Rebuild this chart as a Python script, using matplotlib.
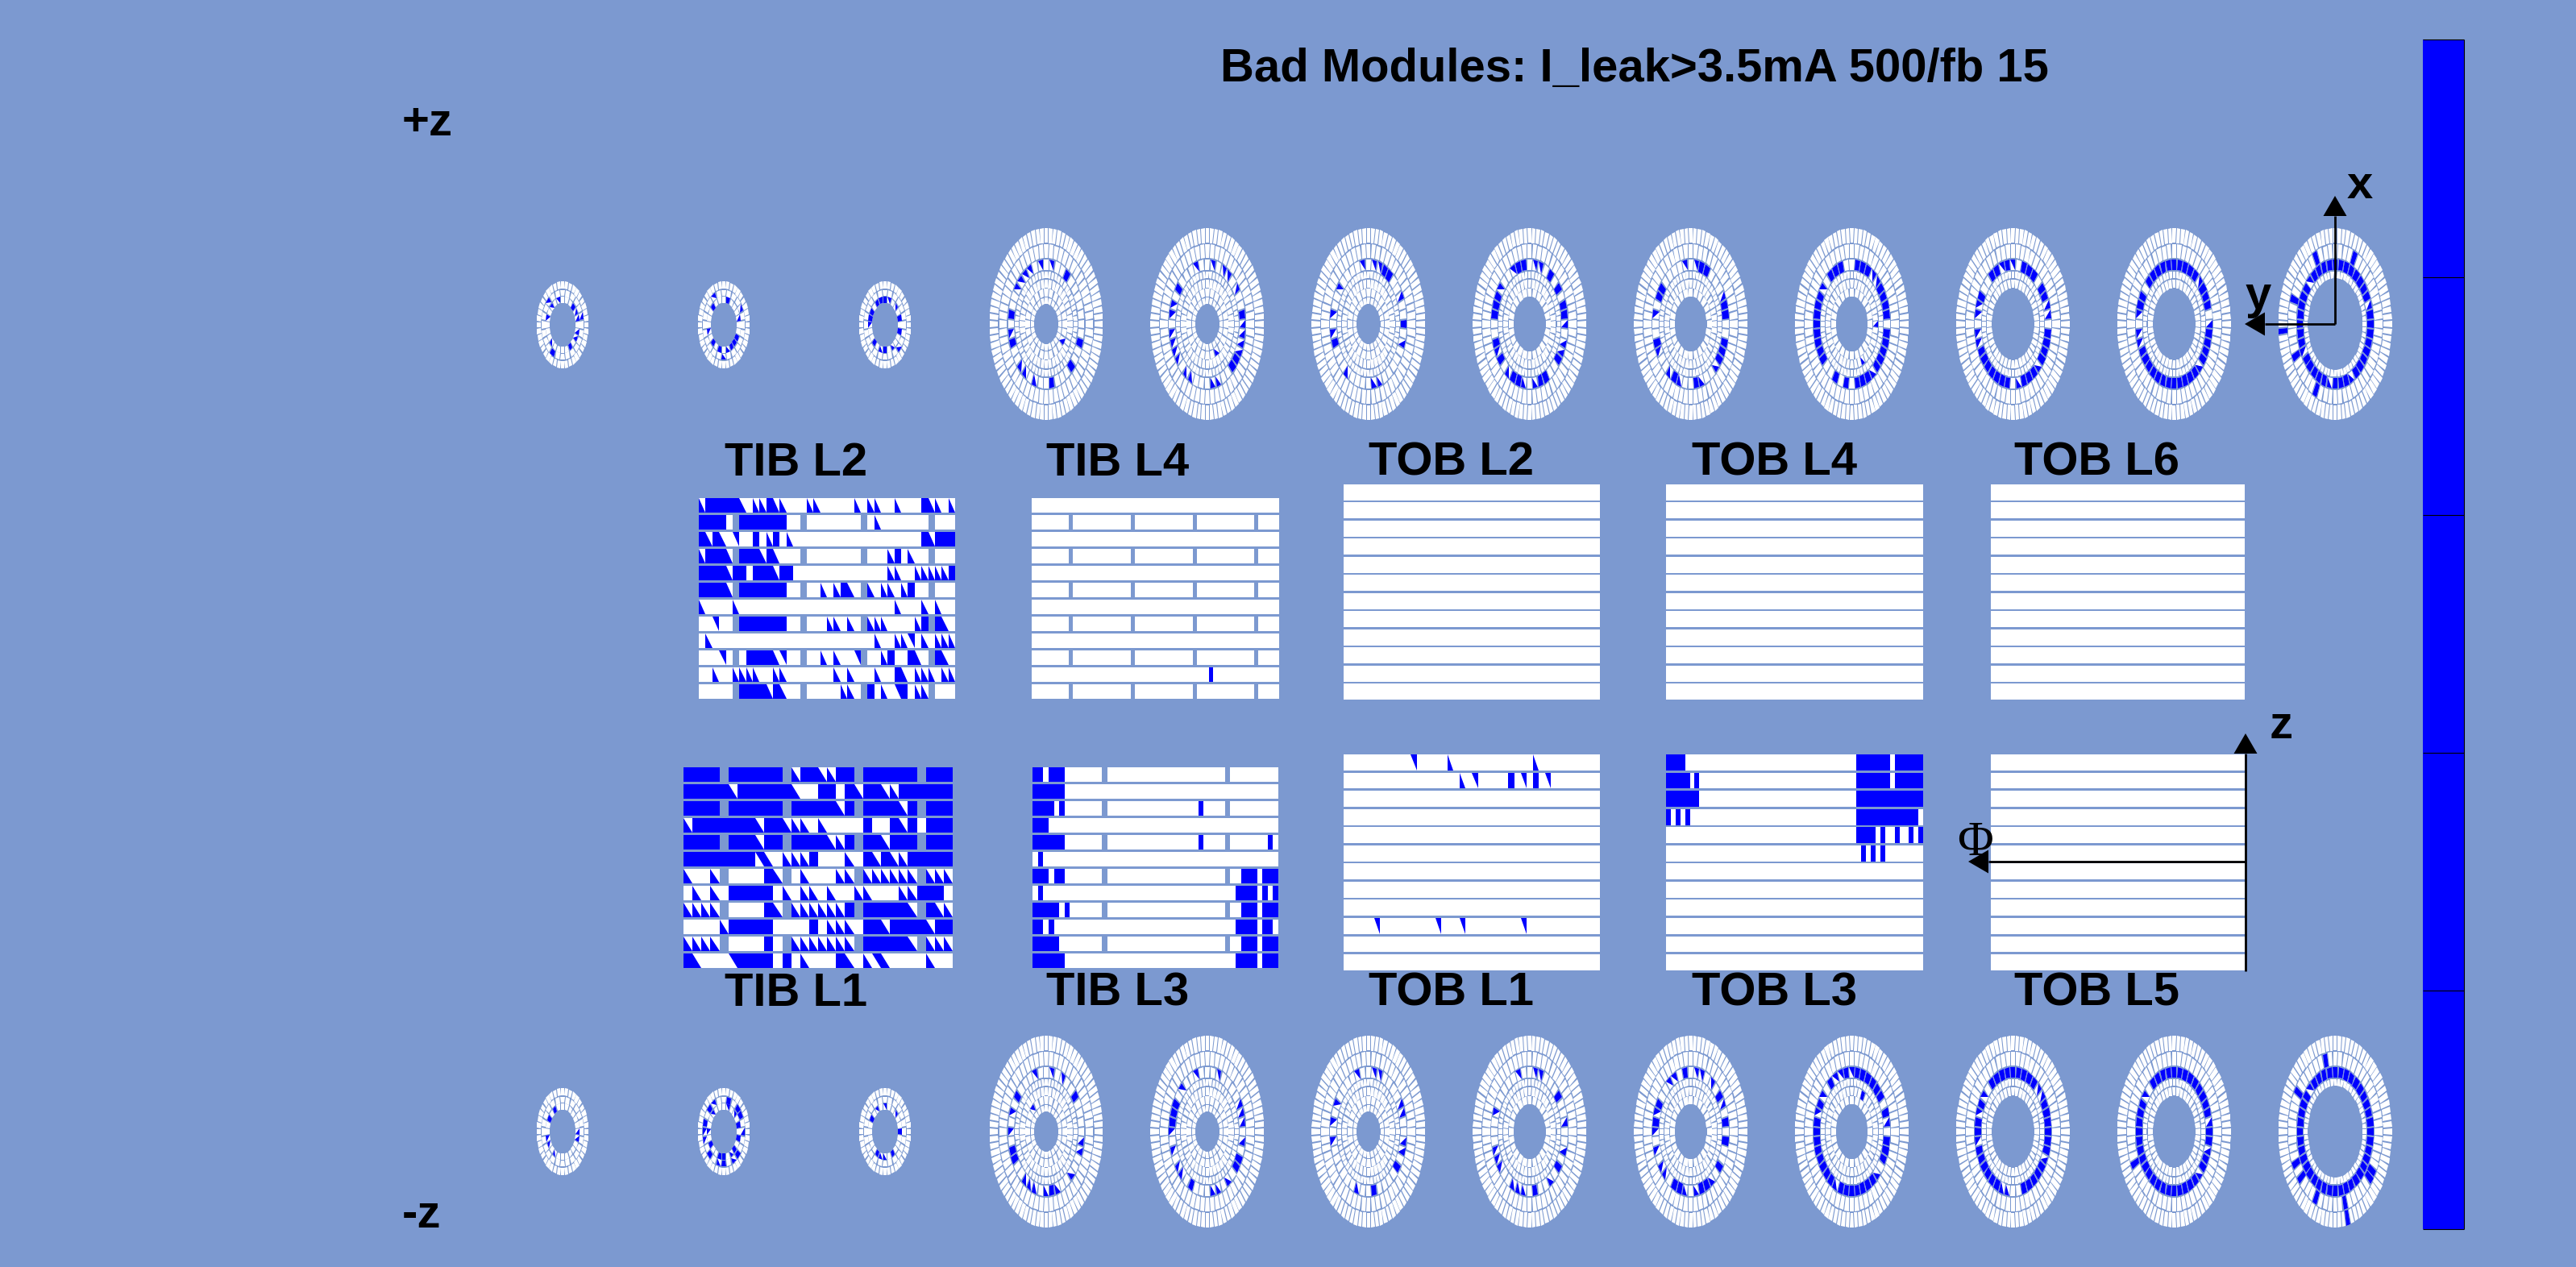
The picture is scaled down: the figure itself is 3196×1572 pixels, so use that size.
"""
Bad module map of the strip tracker: wheels on both sides and barrel layers in between
"""

import numpy as np
import matplotlib
matplotlib.use("Agg")
import matplotlib.pyplot as plt
from matplotlib.collections import PolyCollection

BG = "#7c99d0"
BLUE = "#0000ff"

# barrel layers, one string per row, top row first
# '.' good module, '#' bad module, '/' and '7' half bad module, ' ' no module
TIB_L2_ROWS = [
    "/#####/.//#//...//....././/../...#//./",
    "####. #######.. ........ ./....... ...",
    "#/#/.7..#./#./" + "." * 19 + "#/###",
    "/###/ ###/#/... ........ .../#./.. ...",
    "####/##.###/##" + "." * 14 + "//../////#",
    "####/ #######.. .././#/. /.//./#.. ...",
    "/..../" + "." * 23 + "/..././..",
    "..7.. #######.. ...//./. ///..../# #/.",
    "./" + "." * 24 + "/..//7././//",
    "...7. .####/7.. .././..7 ../#..#/. #/.",
    "../..////..//" + "." * 7 + "/./.../..#/.///.//",
    "..... ####/#/.. .....//. #./.7#.// ...",
]
TIB_L4_PLAIN = "." * 60
TIB_L4_GAPS = "." * 9 + " " + "." * 14 + " " + "." * 14 + " " + "." * 14 + " " + "." * 5
TIB_L4_ROWS = [
    TIB_L4_PLAIN, TIB_L4_GAPS, TIB_L4_PLAIN, TIB_L4_GAPS, TIB_L4_PLAIN, TIB_L4_GAPS,
    TIB_L4_PLAIN, TIB_L4_GAPS, TIB_L4_PLAIN, TIB_L4_GAPS,
    "." * 43 + "#" + "." * 16,
    TIB_L4_GAPS,
]
TIB_L1_ROWS = [
    "#### ###### /##//## ###### ###",
    "#####/######/..##.#/##//######",
    "#### ###### #####/# ####/# ###",
    "/#######/##///./....#..#/#.###",
    "#### ###/## ####//# ##/### ###",
    "########7/.///#.../.#/#//#####",
    "/../ ....#/ ./...// ////// ///",
    "././.#####././/./..//...//###.",
    "//// ....#/ //////# #####/ #//",
    "..../#####....#.///.##/####/##",
    "//// ....#. /////// #####/ ///",
    "#/...7####.#./...#/./7/..../..",
]
TIB_L3_ROWS = [
    "##.###......." + " " + "." * 22 + " " + "." * 9,
    "######" + "." * 40,
    "####.#......." + " " + "." * 17 + "#...." + " " + "." * 9,
    "###" + "." * 43,
    "######......." + " " + "." * 17 + "#...." + " " + ".......#.",
    ".#" + "." * 44,
    "###.##......." + " " + "." * 22 + " " + "..###.###",
    ".#" + "." * 36 + "####.#.#",
    "#####.#......" + " " + "." * 22 + " " + "..###.###",
    "##.#" + "." * 34 + "####.##.",
    "#####........" + " " + "." * 22 + " " + "..###.###",
    "######" + "." * 32 + "####.###",
]
TOB_L1_ROWS = {
    0: "." * 11 + "7" + "." * 5 + "/" + "." * 13 + "/" + "." * 10,
    1: "." * 19 + "/.7" + "." * 5 + "#.7.#.7" + "." * 8,
    9: "." * 5 + "7" + "." * 9 + "7" + "..." + "7" + "." * 9 + "7" + "." * 12,
}
TOB_L3_ROWS = {
    0: "####" + "." * 36 + "#######.######",
    1: "#####.#" + "." * 33 + "#######.######",
    2: "#######" + "." * 33 + "##############",
    3: "#.#.#" + "." * 35 + "#############.",
    4: "." * 40 + "####.#..#..#.#",
    5: "." * 41 + "#.#.#" + "." * 8,
}

# wheels: angles (degrees, counter clockwise from +x) of bad modules in ring 5
TEC_TOP_FULL = [
    [58, 167, 194, 282, 318, 345],
    [147, 13, 325, 318],
    [63, 58, 53, 0, 194],
    [110, 101, 58, 155, 160, 170, 32, 22, 12, 195, 215, 323, 240, 252, 285, 293, 300],
    [68, 60, 145, 155, 22, 12, 195, 345, 337, 325, 240, 278],
    [125, 115, 107, 85, 75, 65, 155, 164, 173, 182, 191, 200, 209, 218, 35, 25, 15, 5,
     355, 345, 335, 325, 315, 295, 285, 275, 265, 240],
    [125, 118, 97, 75, 66, 58, 50, 150, 155, 35, 25, 355, 346, 337, 328, 320, 207, 216,
     225, 234, 243, 252, 261, 285, 294, 302],
    [135, 126, 117, 108, 99, 90, 81, 72, 63, 54, 150, 158, 205, 214, 223, 232, 241, 250,
     259, 268, 277, 286, 295, 304, 40, 32, 23, 14, 355, 346, 337, 328],
    [0, 9, 27, 36, 45, 54, 63, 72, 81, 90, 99, 108, 117, 126, 144, 153, 162, 171, 180,
     189, 198, 216, 225, 234, 243, 252, 270, 279, 288, 306, 315, 324, 333, 342, 351],
]
TEC_TOP_HALF = [
    [103, 117, 126, 134, 147, 186, 228, 236, 250, 78],
    [106, 78, 60, 50, 33, 160, 170, 4, 355, 186, 195, 346, 337, 205, 214, 233, 243, 278, 288],
    [100, 80, 70, 147, 25, 170, 186, 346, 230, 236, 275, 282, 290],
    [118, 95, 80, 72, 50, 147, 2, 346, 337, 205, 232, 265, 280],
    [100, 85, 30, 5, 170, 208, 318, 232, 250, 288],
    [55, 45, 145, 305, 262],
    [110, 88, 170, 160, 15, 5, 312, 190, 198, 275],
    [45, 165, 173, 185, 195, 4, 318, 313],
    [135, 18, 207, 261, 297],
]
TEC_BOTTOM_FULL = [
    [148, 195, 205, 32, 280],
    [150, 160, 170, 337, 328, 245],
    [325, 280],
    [32, 325, 280],
    [100, 150, 170, 32, 12, 355, 347, 325, 243, 250, 285, 295],
    [125, 98, 78, 70, 62, 52, 42, 32, 22, 14, 155, 172, 181, 190, 355, 346, 338, 330, 200,
     209, 218, 227, 236, 255, 264, 273, 282, 291, 300, 309],
    [127, 118, 109, 100, 91, 82, 73, 64, 55, 155, 172, 181, 27, 18, 9, 0, 351, 342, 325,
     199, 208, 217, 226, 235, 244, 285, 294, 302, 311],
    [130, 121, 112, 103, 94, 85, 76, 67, 58, 49, 152, 161, 170, 179, 188, 197, 206, 215,
     224, 233, 242, 251, 260, 269, 278, 287, 296, 305, 40, 30, 20, 0, 350, 331, 322],
    [0, 9, 18, 27, 36, 45, 54, 63, 72, 81, 90, 99, 108, 117, 126, 144, 153, 162, 171, 180,
     189, 198, 207, 216, 225, 234, 243, 252, 261, 270, 279, 288, 297, 306, 315, 324, 333,
     342, 351],
]
TEC_BOTTOM_HALF = [
    [105, 85, 65, 165, 180, 355, 345, 318, 232, 235, 245, 255, 272, 292],
    [112, 75, 133, 180, 30, 22, 12, 348, 195, 218, 228, 305, 275, 288],
    [105, 80, 72, 150, 25, 15, 175, 190, 355, 345, 338, 250],
    [105, 78, 73, 165, 12, 195, 345, 338, 205, 212, 310, 245, 255, 260],
    [125, 118, 85, 75, 50, 160, 183, 195, 215, 225, 28, 260, 278, 305],
    [117, 108, 88, 145, 163, 5, 245, 318],
    [46, 143, 163, 190, 255, 262, 38, 333],
    [143, 10, 340, 313],
    [135, 10],
]
# modules outside ring 5: side, wheel, ring, angle, kind
TEC_OTHER = [
    ("top", 0, 2, 324, "h"), ("top", 1, 2, 300, "h"),
    ("top", 5, 3, 0, "h"), ("top", 5, 3, 300, "h"),
    ("top", 8, 6, 113, "f"), ("top", 8, 6, 67, "f"), ("top", 8, 6, 158, "f"),
    ("top", 8, 6, 203, "f"), ("top", 8, 6, 247, "f"), ("top", 8, 7, 183, "f"),
    ("bottom", 0, 2, 130, "h"), ("bottom", 5, 3, 60, "f"), ("bottom", 7, 6, 205, "f"),
    ("bottom", 8, 6, 148, "f"), ("bottom", 8, 6, 105, "f"), ("bottom", 8, 6, 205, "f"),
    ("bottom", 8, 6, 218, "f"), ("bottom", 8, 6, 245, "f"), ("bottom", 8, 6, 285, "f"),
    ("bottom", 8, 6, 330, "f"), ("bottom", 8, 6, 322, "f"), ("bottom", 8, 7, 285, "f"),
]
# first ring present on each of the nine wheels
TEC_FIRST_RING = [1, 1, 1, 2, 2, 2, 3, 3, 4]

# small disks: (ring, angle, kind), ring 0 is the inner one
TID_TOP = [
    [(1, 132, "h"), (0, 132, "h"), (0, 100, "h"), (0, 44, "f"), (0, 29, "h"), (0, 16, "h"),
     (1, 14, "h"), (0, 168, "h"), (0, 345, "h"), (0, 329, "h"), (0, 223, "h"), (1, 241, "f"),
     (0, 300, "f")],
    [(1, 124, "h"), (0, 134, "f"), (0, 76, "f"), (1, 31, "h"), (0, 16, "h"), (0, 196, "h"),
     (0, 226, "f"), (0, 257, "f"), (1, 270, "h"), (0, 285, "h"), (0, 300, "f"), (0, 316, "f"),
     (0, 331, "f")],
    [(0, 120, "f"), (0, 145, "f"), (0, 165, "f"), (0, 180, "h"), (0, 90, "f"), (0, 100, "f"),
     (0, 78, "h"), (0, 40, "h"), (0, 15, "f"), (0, 220, "f"), (0, 250, "h"), (0, 265, "f"),
     (0, 300, "h"), (0, 345, "f"), (1, 320, "h")],
]
TID_BOTTOM = [
    [(0, 119, "f"), (0, 151, "f"), (0, 0, "h"), (0, 343, "h"), (0, 197, "h"), (0, 212, "h"),
     (0, 241, "h")],
    [(1, 119, "h"), (1, 136, "f"), (0, 132, "h"), (1, 73, "f"), (0, 75, "h"), (1, 43, "f"),
     (1, 29, "f"), (0, 48, "h"), (0, 15, "f"), (1, 165, "f"), (0, 180, "h"), (1, 180, "h"),
     (1, 0, "h"), (0, 343, "f"), (1, 195, "h"), (0, 210, "f"), (1, 225, "f"), (1, 322, "f"),
     (0, 315, "f"), (0, 250, "f"), (1, 250, "h"), (0, 270, "f"), (1, 270, "f"), (0, 300, "h"),
     (1, 305, "h")],
    [(0, 90, "h"), (0, 123, "h"), (0, 151, "f"), (0, 44, "h"), (0, 0, "f"), (0, 240, "f"),
     (0, 255, "h"), (0, 270, "h"), (0, 300, "f")],
]

COLORBAR_EDGES = [49, 344, 639, 934, 1229, 1525]
TITLE = "Bad Modules: I_leak>3.5mA 500/fb 15"

TEC_RADII = {1: (0.21, 0.275), 2: (0.285, 0.37), 3: (0.375, 0.465), 4: (0.48, 0.55),
             5: (0.565, 0.675), 6: (0.69, 0.83), 7: (0.845, 1.0)}
TEC_COUNTS = {1: 24, 2: 24, 3: 40, 4: 56, 5: 40, 6: 56, 7: 80}
TID_RADII = {0: (0.51, 0.65), 1: (0.665, 0.81), 2: (0.83, 1.0)}
TID_COUNTS = {0: 24, 1: 24, 2: 40}


def add_polys(ax, polys, color, zorder):
    # snapped to whole pixels, the original is a plain bitmap map
    coll = PolyCollection(polys, facecolors=color, edgecolors="none",
                          linewidths=0, antialiaseds=True, zorder=zorder)
    coll.set_snap(True)
    ax.add_collection(coll)


def draw_layer(ax, rows, n_cols, x0, x1, y0, y1, sep=2.6):
    # rows may be a list of strings or a dict holding only the rows with bad modules
    pitch = (y1 - y0 + sep) / 12
    edges = np.linspace(x0, x1, n_cols + 1).round(1) + 0.01
    white, blue = [], []
    for r in range(12):
        row = rows[r] if (isinstance(rows, list) or r in rows) else "." * n_cols
        top = y0 + r * pitch
        bot = top + pitch - sep
        for c, ch in enumerate(row):
            left, right = edges[c], edges[c + 1]
            if ch == " ":
                continue
            white.append([(left, top), (right, top), (right, bot), (left, bot)])
            if ch == "#":
                blue.append([(left, top), (right, top), (right, bot), (left, bot)])
            elif ch == "/":
                blue.append([(left, top), (right, bot), (left, bot)])
            elif ch == "7":
                blue.append([(left, top), (right, top), (right, bot)])
    add_polys(ax, white, "white", 2)
    add_polys(ax, blue, BLUE, 3)


def module_poly(cx, cy, a, b, r_in, r_out, angle, step, half=False):
    t0 = np.radians(angle - 0.41 * step)
    t1 = np.radians(angle + 0.41 * step)
    pts = [(r_in, t0), (r_out, t0), (r_out, t1), (r_in, t1)]
    if half:
        pts = pts[:3]
    return [(cx + a * r * np.cos(t), cy - b * r * np.sin(t)) for r, t in pts]


def draw_disk(ax, cx, cy, a, b, radii, counts, first_ring, bad):
    white, blue = [], []
    for ring, (r_in, r_out) in radii.items():
        if ring < first_ring:
            continue
        step = 360 / counts[ring]
        for i in range(counts[ring]):
            white.append(module_poly(cx, cy, a, b, r_in, r_out, i * step, step))
    for ring, angle, kind in bad:
        if ring not in radii or ring < first_ring:
            continue
        r_in, r_out = radii[ring]
        step = 360 / counts[ring]
        centre = round(angle / step) * step
        blue.append(module_poly(cx, cy, a, b, r_in, r_out, centre, step, kind == "h"))
    add_polys(ax, white, "white", 2)
    add_polys(ax, blue, BLUE, 3)


def draw_arrow(ax, x_from, y_from, x_to, y_to):
    # black axis with a filled head, as on the detector sketches
    dx, dy = x_to - x_from, y_to - y_from
    length = np.hypot(dx, dy)
    ux, uy = dx / length, dy / length
    base_x, base_y = x_to - ux * 25, y_to - uy * 25
    ax.plot([x_from, base_x], [y_from, base_y], color="black", lw=2.0,
            solid_capstyle="butt", zorder=5)
    ax.fill([x_to, base_x - uy * 14.5, base_x + uy * 14.5],
            [y_to, base_y + ux * 14.5, base_y - ux * 14.5], color="black", lw=0, zorder=5)


def main():
    fig = plt.figure(figsize=(31.96, 15.72), dpi=100, facecolor=BG)
    ax = fig.add_axes([0, 0, 1, 1])
    ax.set_xlim(0, 3196)
    ax.set_ylim(1572, 0)
    ax.axis("off")

    # barrel layers
    draw_layer(ax, TIB_L2_ROWS, 38, 867, 1185, 618, 867)
    draw_layer(ax, TIB_L4_ROWS, 60, 1280, 1587, 618, 867)
    draw_layer(ax, {}, 42, 1667, 1985, 601, 868)
    draw_layer(ax, {}, 54, 2067, 2386, 601, 868)
    draw_layer(ax, {}, 42, 2470, 2785, 601, 868)
    draw_layer(ax, TIB_L1_ROWS, 30, 848, 1182, 952, 1201)
    draw_layer(ax, TIB_L3_ROWS, 46, 1281, 1586, 952, 1201)
    draw_layer(ax, TOB_L1_ROWS, 42, 1667, 1985, 936, 1204)
    draw_layer(ax, TOB_L3_ROWS, 54, 2067, 2386, 936, 1204)
    draw_layer(ax, {}, 42, 2470, 2785, 936, 1204)

    # small disks
    for i, (top, bottom) in enumerate(zip(TID_TOP, TID_BOTTOM)):
        cx = 698 + 200 * i
        draw_disk(ax, cx, 403, 32.5, 54, TID_RADII, TID_COUNTS, 0, top)
        draw_disk(ax, cx, 1404, 32.5, 54, TID_RADII, TID_COUNTS, 0, bottom)

    # big wheels
    for i in range(9):
        cx = 1298 + 199.9 * i
        top = [(5, v, "f") for v in TEC_TOP_FULL[i]] + [(5, v, "h") for v in TEC_TOP_HALF[i]]
        bottom = [(5, v, "f") for v in TEC_BOTTOM_FULL[i]] + [(5, v, "h") for v in TEC_BOTTOM_HALF[i]]
        top += [(r, v, k) for side, w, r, v, k in TEC_OTHER if side == "top" and w == i]
        bottom += [(r, v, k) for side, w, r, v, k in TEC_OTHER if side == "bottom" and w == i]
        draw_disk(ax, cx, 402, 70.5, 119, TEC_RADII, TEC_COUNTS, TEC_FIRST_RING[i], top)
        draw_disk(ax, cx, 1404, 70.5, 119, TEC_RADII, TEC_COUNTS, TEC_FIRST_RING[i], bottom)

    # colour bar on the right
    ax.bar(3031.5, np.diff(COLORBAR_EDGES), width=51, bottom=COLORBAR_EDGES[:-1],
           color=BLUE, linewidth=0, zorder=2)
    ax.hlines(COLORBAR_EDGES, 3006, 3057, color="black", lw=0.8, zorder=3)
    ax.vlines(3057, COLORBAR_EDGES[0], COLORBAR_EDGES[-1], color="black", lw=0.8, zorder=3)

    # axis sketches
    draw_arrow(ax, 2897, 402, 2897, 243)
    draw_arrow(ax, 2897, 402, 2785, 402)
    draw_arrow(ax, 2786, 1205, 2786, 910)
    draw_arrow(ax, 2786, 1069, 2442, 1069)

    font = dict(family="Liberation Sans", fontweight="bold", color="black", zorder=6)
    ax.text(1514, 86, TITLE, fontsize=41.8, ha="left", va="center", **font)
    ax.text(499, 153, "+z", fontsize=41.8, ha="left", va="center", **font)
    ax.text(499, 1508, "-z", fontsize=41.8, ha="left", va="center", **font)
    for name, x in zip(["TIB L2", "TIB L4", "TOB L2", "TOB L4", "TOB L6"], [899, 1298, 1698, 2099, 2499]):
        ax.text(x, 575, name, fontsize=41.8, ha="left", va="center", **font)
    for name, x in zip(["TIB L1", "TIB L3", "TOB L1", "TOB L3", "TOB L5"], [899, 1298, 1698, 2099, 2499]):
        ax.text(x, 1233, name, fontsize=41.8, ha="left", va="center", **font)
    ax.text(2912, 231, "x", fontsize=41.8, ha="left", va="center", **font)
    ax.text(2786, 368, "y", fontsize=41.8, ha="left", va="center", **font)
    ax.text(2816, 901, "z", fontsize=41.8, ha="left", va="center", **font)
    ax.text(2451, 1046, "\u03a6", fontsize=44, ha="center", va="center",
            family="Liberation Serif", color="black", zorder=6)

    fig.savefig("out.png", dpi=100, facecolor=BG)


if __name__ == "__main__":
    main()
